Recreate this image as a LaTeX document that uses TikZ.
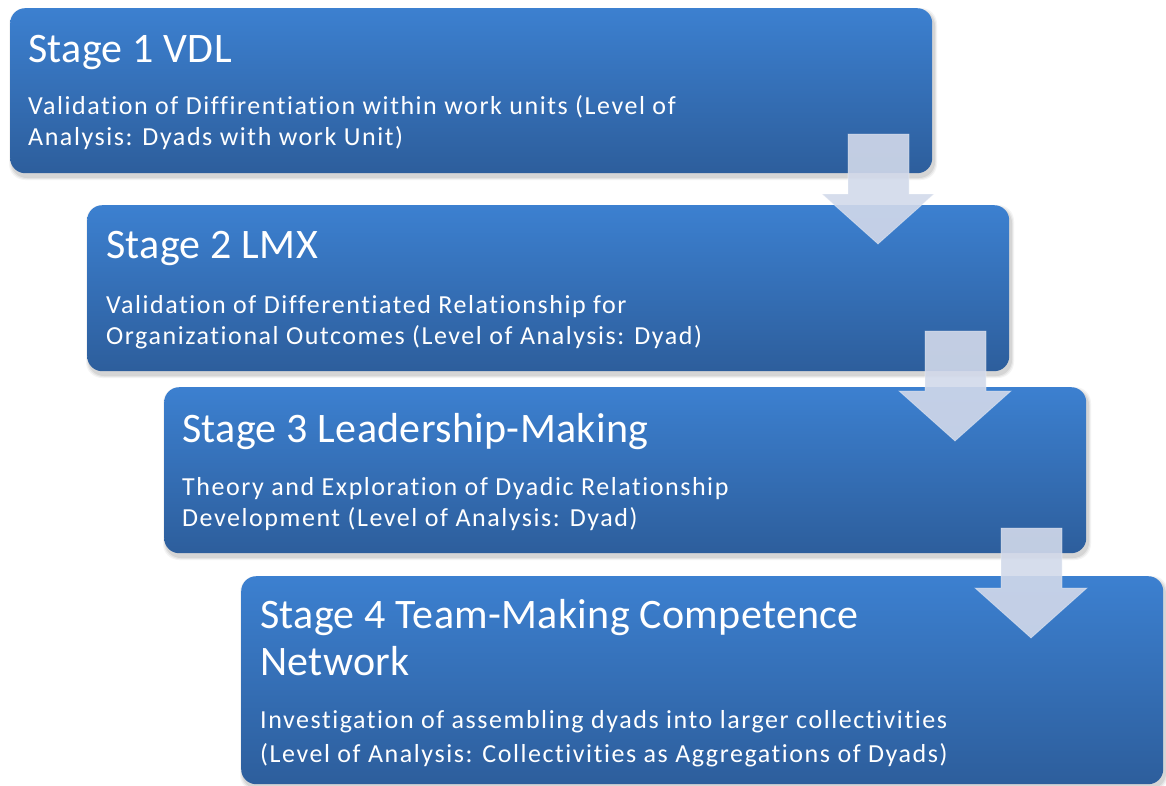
\documentclass[tikz,border=0pt]{standalone}
\usepackage{fontspec}
\setmainfont{Carlito}[Ligatures=NoCommon]
\newfontfamily\titlefont{Carlito}[Ligatures=NoCommon, LetterSpace=0.8]
\newfontfamily\bodyfont{Carlito}[Ligatures=NoCommon, LetterSpace=6.0]
\usetikzlibrary{calc}

\definecolor{boxtop}{RGB}{60,128,208}
\definecolor{boxbot}{RGB}{45,94,156}
\definecolor{arrowfill}{RGB}{210,217,234}
\definecolor{shadowc}{RGB}{40,40,40}

\tikzset{
  stagebox/.style={rectangle, rounded corners=15pt, inner sep=0pt,
    minimum width=922pt, minimum height=#1, anchor=north west,
    top color=boxtop, bottom color=boxbot, draw=none},
  stagebox/.default=165pt,
  titletext/.style={anchor=base west, inner sep=0pt, text=white,
    font=\titlefont\fontsize{42}{48}\selectfont},
  bodytext/.style={anchor=base west, inner sep=0pt, text=white,
    font=\bodyfont\fontsize{26}{31}\selectfont},
  downarrow/.style={fill=arrowfill, fill opacity=0.9,
    draw=white, draw opacity=0.35, line width=0.8pt},
}

% soft drop shadow beneath a stage box: (x,y) top-left corner, height h
\newcommand{\stageshadow}[3]{%
  \foreach \g/\o in {6/0.05,4/0.07,2/0.09}{%
    \fill[shadowc, opacity=\o, rounded corners=16pt]
      (#1+2-\g/2,#2+3-\g/2) rectangle (#1+922+2+\g/2,#2+#3+4+\g/2);
  }%
}

\begin{document}
\begin{tikzpicture}[x=1pt, y=-1pt]
\useasboundingbox (0,0) rectangle (1166,785);
\clip (0,0) rectangle (1166,785);

% shadows
\stageshadow{10}{8}{165}
\stageshadow{87}{205}{166}
\stageshadow{164}{387}{166}
\stageshadow{241}{576}{208}

% stage boxes
\node[stagebox] (s1) at (10,8) {};
\node[stagebox=166pt] (s2) at (87,205) {};
\node[stagebox=166pt] (s3) at (164,387) {};
\node[stagebox=208pt] (s4) at (241,576) {};

% Stage 1
\node[titletext] (t1) at (28,62) {Stage 1 VDL};
\node[bodytext] (b1a) at (28,114) {Validation of Diffirentiation within work units (Level of};
\node[bodytext] (b1b) at (28,145) {Analysis: Dyads with work Unit)};

% Stage 2
\node[titletext] (t2) at (106,258) {Stage 2 LMX};
\node[bodytext] (b2a) at (106,313) {Validation of Differentiated Relationship for};
\node[bodytext] (b2b) at (106,344) {Organizational Outcomes (Level of Analysis: Dyad)};

% Stage 3
\node[titletext] (t3) at (182,442) {Stage 3 Leadership-Making};
\node[bodytext] (b3a) at (182,495) {Theory and Exploration of Dyadic Relationship};
\node[bodytext] (b3b) at (182,526) {Development (Level of Analysis: Dyad)};

% Stage 4
\node[titletext] (t4a) at (260,628) {Stage 4 Team-Making Competence};
\node[titletext] (t4b) at (260,675) {Network};
\node[bodytext] (b4a) at (260,728) {Investigation of assembling dyads into larger collectivities};
\node[bodytext] (b4b) at (260,762) {(Level of Analysis: Collectivities as Aggregations of Dyads)};

% block arrows between stages
\foreach \dx/\dy in {0/0, 77/197, 153/394}{
  \begin{scope}[shift={(\dx,\dy)}]
    \draw[downarrow] (848,134) -- (909,134) -- (909,194) -- (934,194)
      -- (878,244) -- (822,194) -- (848,194) -- cycle;
  \end{scope}
}
\end{tikzpicture}
\end{document}
